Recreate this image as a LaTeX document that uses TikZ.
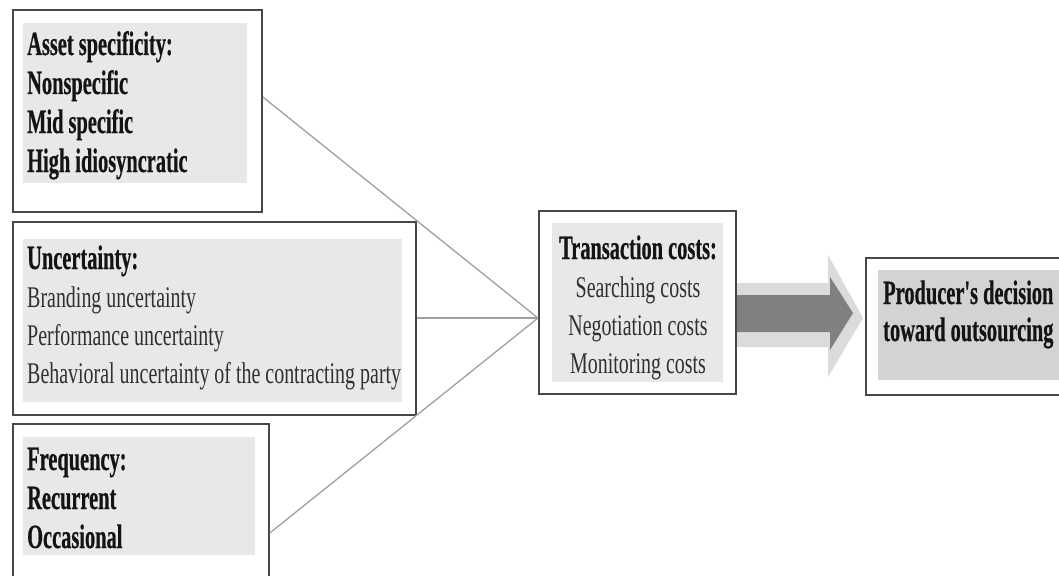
\documentclass[tikz,border=0pt]{standalone}
\usepackage{fontspec}
\setmainfont{Liberation Serif}
% narrow serif faces for the labels
\newfontfamily\condbold{Liberation Serif}[FakeStretch=0.60, BoldFeatures={FakeBold=0.5}]
\newfontfamily\condreg{Liberation Serif}[FakeStretch=0.665]
\newcommand\txtbold{\condbold\bfseries\fontsize{34}{40}\selectfont}
\newcommand\txtreg{\condreg\fontsize{30}{36}\selectfont}
\definecolor{framecol}{HTML}{474747}
\definecolor{panelcol}{HTML}{E8E8E8}
\definecolor{paneldark}{HTML}{D3D3D3}
\definecolor{linkcol}{HTML}{A0A0A0}
\definecolor{regtext}{HTML}{303030}
\tikzset{
  frame/.style={draw=framecol, line width=1.8pt, fill=white, inner sep=0pt, anchor=north west},
  panel/.style={fill=panelcol},
  line/.style={inner sep=0pt, text=black!92},
  regline/.style={inner sep=0pt, text=regtext},
  link/.style={draw=linkcol, line width=1.3pt},
}
\begin{document}
\begin{tikzpicture}[x=1pt,y=-1pt]
\clip (0,0) rectangle (1059,575);
\fill[white] (0,0) rectangle (1059,575);

% --- factor boxes on the left
\node[frame, minimum width=249pt, minimum height=202pt] (asset) at (12,9) {};
\fill[panel] (23,23) rectangle (247,183);
\node[line, anchor=base west] (a1) at (27,55) {\txtbold Asset specificity:};
\node[line, anchor=base west] (a2) at (27,94) {\txtbold Nonspecific};
\node[line, anchor=base west] (a3) at (27,133) {\txtbold Mid specific};
\node[line, anchor=base west] (a4) at (27,172) {\txtbold High idiosyncratic};

\node[frame, minimum width=403pt, minimum height=193pt] (unc) at (12,221) {};
\fill[panel] (23,239) rectangle (402,402);
\node[line, anchor=base west] (u1) at (27,269) {\txtbold Uncertainty:};
\node[regline, anchor=base west] (u2) at (27,307) {\txtreg Branding uncertainty};
\node[regline, anchor=base west] (u3) at (27,345) {\txtreg Performance uncertainty};
\node[regline, anchor=base west] (u4) at (27,383) {\txtreg Behavioral uncertainty of the contracting party};

\node[frame, minimum width=256pt, minimum height=170pt] (freq) at (12,423) {};
\fill[panel] (23,437) rectangle (255,555);
\node[line, anchor=base west] (f1) at (27,470) {\txtbold Frequency:};
\node[line, anchor=base west] (f2) at (27,509) {\txtbold Recurrent};
\node[line, anchor=base west] (f3) at (27,548) {\txtbold Occasional};

% --- transaction costs
\node[frame, minimum width=197pt, minimum height=183pt] (tc) at (538,210) {};
\fill[panel] (552,223) rectangle (723,382);
\node[line, anchor=base] (t1) at (638,259) {\txtbold Transaction costs:};
\node[regline, anchor=base] (t2) at (638,297) {\txtreg Searching costs};
\node[regline, anchor=base] (t3) at (638,335) {\txtreg Negotiation costs};
\node[regline, anchor=base] (t4) at (638,373) {\txtreg Monitoring costs};

% --- decision
\node[frame, minimum width=220pt, minimum height=137pt] (dec) at (865,257) {};
\fill[paneldark] (878,270) rectangle (1080,380);
\node[line, anchor=base west] (d1) at (883,304) {\txtbold Producer's decision};
\node[line, anchor=base west] (d2) at (883,341) {\txtbold toward outsourcing};

% --- converging links
\coordinate (hub) at (tc.west |- 0,318);
\coordinate (assetout) at (asset.east |- 0,97);
\coordinate (freqout) at (freq.east |- 0,533);
\draw[link] (assetout) -- (hub);
\draw[link] (unc.east |- hub) -- (hub);
\draw[link] (freqout) -- (hub);

% --- block arrow between costs and decision
\fill[black!14] (737,283) -- (828,283) -- (828,255) -- (863,318) -- (828,377) -- (828,347) -- (737,347) -- cycle;
\fill[black!50] (737,295) -- (830,295) -- (830,277) -- (853,313) -- (830,350) -- (830,332) -- (737,332) -- cycle;
\end{tikzpicture}
\end{document}
